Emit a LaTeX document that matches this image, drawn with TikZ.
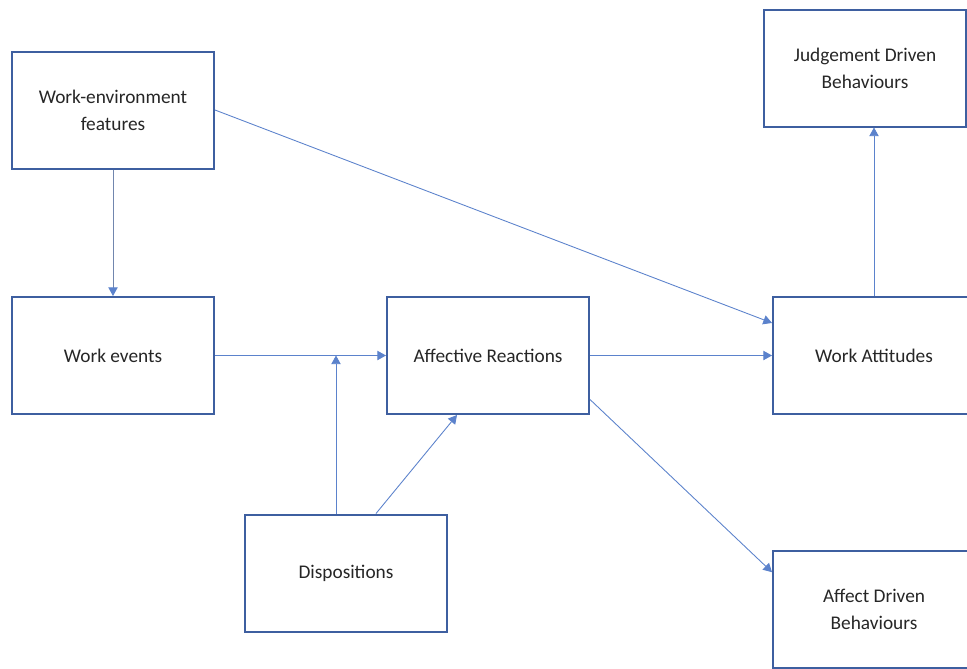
\documentclass[tikz,border=0pt]{standalone}
\usepackage{fontspec}
\setmainfont{Carlito}
\usetikzlibrary{arrows.meta}
\definecolor{boxline}{HTML}{3E5FA0}
\definecolor{arrowline}{HTML}{5B82CC}
\definecolor{greyline}{HTML}{7186AE}
\definecolor{txt}{HTML}{262626}
\tikzset{
  box/.style={draw=boxline, line width=1.5pt, fill=white, minimum width=151.5pt,
    minimum height=87.75pt, align=center, text=txt, inner sep=0pt,
    font=\fontsize{14.5pt}{20.25pt}\selectfont},
  arr/.style={draw=arrowline, line width=0.65pt,
    -{Triangle[length=6.5pt,width=7pt,color=arrowline,fill=arrowline]}},
}
\begin{document}
\begin{tikzpicture}[x=0.75pt, y=-0.75pt]
\useasboundingbox (0,0) rectangle (967,668);
\clip (0,0) rectangle (967,668);
\fill[white] (0,0) rectangle (967,668);

% boxes
\node[box] (wef)  at (113,110)   {Work-environment\\features};
\node[box] (we)   at (113,355.5) {Work events};
\node[box] (ar)   at (488,355.5) {Affective Reactions};
\node[box] (wa)   at (874,355.5) {Work Attitudes};
\node[box] (jdb)  at (865,68)    {Judgement Driven\\Behaviours};
\node[box] (disp) at (346,573)   {Dispositions};
\node[box] (adb)  at (874,609.5) {Affect Driven\\Behaviours};

% connectors
\draw[arr, draw=greyline] (wef.south) -- (we.north);
\draw[arr] (wef.east) -- ([yshift=24.4pt]wa.west);
\draw[arr] (we.east) -- (ar.west);
\draw[arr] ([xshift=-7.5pt]disp.north) -- ([xshift=-7.5pt]disp.north |- we.east);
\draw[arr] ([xshift=22.5pt]disp.north) -- ([xshift=-23.25pt]ar.south);
\draw[arr] (ar.east) -- (wa.west);
\draw[arr] ([yshift=-33pt]ar.east) -- ([yshift=28pt]adb.west);
\draw[arr] (wa.north) -- (wa.north |- jdb.south);
\end{tikzpicture}
\end{document}
